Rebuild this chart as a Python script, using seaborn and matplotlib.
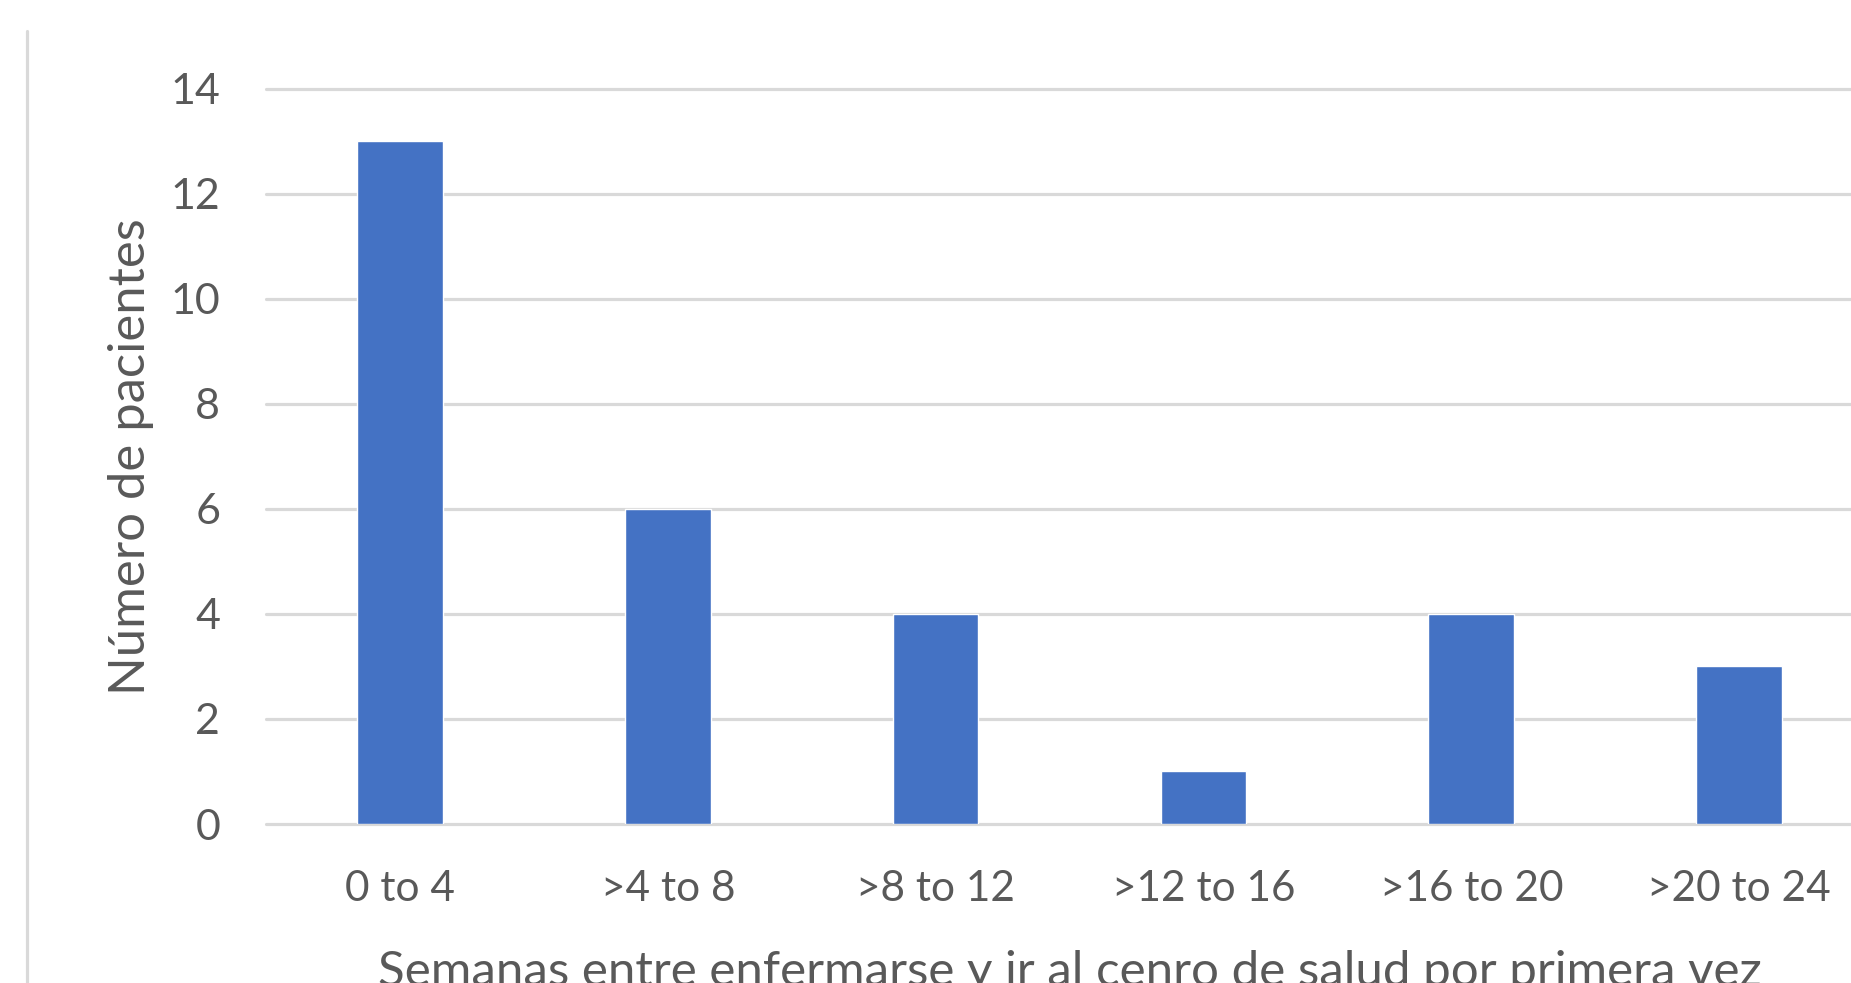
import matplotlib
matplotlib.use("Agg")
import matplotlib.pyplot as plt
from matplotlib.lines import Line2D
import seaborn as sns
import pandas as pd

categories = ["0 to 4", ">4 to 8", ">8 to 12", ">12 to 16", ">16 to 20", ">20 to 24"]
patients = [13, 6, 4, 1, 4, 3]
y_ticks = [0, 2, 4, 6, 8, 10, 12, 14]

x_title = "Semanas entre enfermarse y ir al cenro de salud por primera vez"
y_title = "Número de pacientes"

df = pd.DataFrame({"rango": categories, "pacientes": patients})

sns.set_theme(style="white")
plt.rcParams["font.family"] = ["Lato", "DejaVu Sans"]

text_color = "#595959"
grid_color = "#D9D9D9"
bar_color = "#4472C4"

W, H = 1851, 983
fig = plt.figure(figsize=(W / 100, H / 100), dpi=100)
fig.patch.set_facecolor("white")

# plot area: left 266px, right runs past the figure edge, y from 824px to 88px
ax = fig.add_axes([266 / W, (H - 824) / H, (1873 - 266) / W, (824 - 88.5) / H])

sns.barplot(data=df, x="rango", y="pacientes", color=bar_color, width=0.32,
            saturation=1, ax=ax, zorder=3)

ax.set_xlim(-0.5, len(categories) - 0.5)
ax.set_ylim(0, 14)
ax.set_yticks(y_ticks)
for v in y_ticks:
    ax.axhline(v, color=grid_color, lw=2.3, zorder=1, clip_on=False)

for s in ax.spines.values():
    s.set_visible(False)
ax.tick_params(axis="x", length=0, labelsize=30.5, colors=text_color, pad=33)
ax.tick_params(axis="y", length=0, labelsize=31, colors=text_color, pad=33)

ax.set_xlabel(x_title, fontsize=35.5, color=text_color, labelpad=30)
ax.set_ylabel(y_title, fontsize=36.5, color=text_color, labelpad=12)

# chart-area border on the left side
fig.add_artist(Line2D([27 / W, 27 / W], [0, (H - 31) / H], color=grid_color, lw=2.3,
                      transform=fig.transFigure))

fig.savefig("out.png", dpi=100)
